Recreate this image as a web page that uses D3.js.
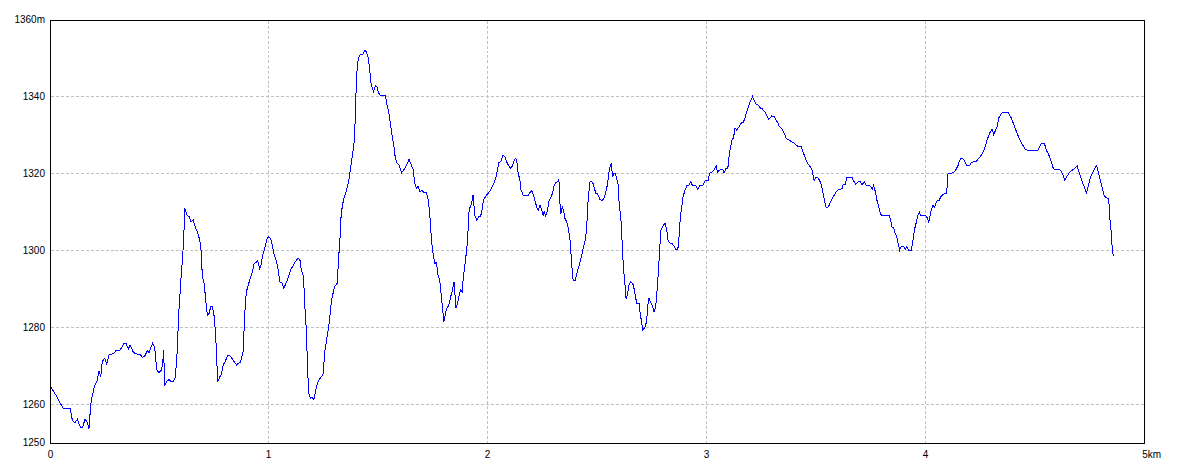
<!DOCTYPE html>
<html>
<head>
<meta charset="utf-8">
<script src="https://cdn.jsdelivr.net/npm/d3@7"></script>
<style>
  html, body { margin: 0; padding: 0; background: #fff; }
  svg { display: block; }
  text { font-family: "Liberation Sans", Arial, sans-serif; font-size: 10px; fill: #000; }
</style>
</head>
<body>
<svg id="chart" width="1184" height="473"></svg>
<script>
// ---- data (distance in km, elevation in m) ----
const distanceKm = [
  0.003,0.014,0.024,0.037,0.049,0.064,0.095,0.105,0.116,0.128,0.143,0.151,0.163,0.174,0.181,0.189,0.197,0.207,0.219,0.227,
  0.235,0.242,0.253,0.262,0.273,0.296,0.303,0.323,0.341,0.351,0.361,0.369,0.384,0.395,0.415,0.425,0.436,0.448,0.456,0.463,
  0.472,0.481,0.491,0.501,0.512,0.518,0.522,0.527,0.536,0.547,0.555,0.567,0.576,0.585,0.590,0.596,0.603,0.608,0.613,0.619,
  0.628,0.639,0.646,0.657,0.666,0.677,0.686,0.692,0.699,0.707,0.715,0.722,0.730,0.737,0.745,0.753,0.760,0.765,0.769,0.779,
  0.786,0.794,0.803,0.814,0.824,0.833,0.844,0.855,0.863,0.872,0.878,0.885,0.890,0.896,0.902,0.911,0.920,0.928,0.936,0.943,
  0.951,0.960,0.966,0.974,0.984,0.993,1.000,1.009,1.013,1.025,1.036,1.047,1.051,1.062,1.071,1.087,1.102,1.120,1.135,1.144,
  1.151,1.161,1.166,1.172,1.176,1.181,1.185,1.192,1.201,1.208,1.215,1.224,1.234,1.245,1.251,1.257,1.265,1.272,1.280,1.285,
  1.292,1.303,1.315,1.321,1.327,1.333,1.343,1.353,1.361,1.368,1.376,1.382,1.390,1.394,1.397,1.402,1.407,1.417,1.432,1.440,
  1.448,1.455,1.463,1.467,1.473,1.481,1.489,1.496,1.504,1.513,1.528,1.535,1.542,1.550,1.557,1.565,1.574,1.580,1.588,1.597,
  1.608,1.618,1.627,1.643,1.653,1.661,1.669,1.676,1.684,1.693,1.702,1.711,1.720,1.729,1.737,1.745,1.752,1.760,1.768,1.775,
  1.783,1.790,1.798,1.802,1.809,1.816,1.824,1.833,1.841,1.848,1.851,1.857,1.864,1.873,1.879,1.885,1.891,1.897,1.903,1.909,
  1.917,1.925,1.931,1.935,1.943,1.952,1.961,1.969,1.976,1.983,1.992,2.001,2.010,2.016,2.026,2.037,2.045,2.053,2.062,2.072,
  2.080,2.088,2.098,2.106,2.113,2.123,2.130,2.136,2.141,2.149,2.153,2.164,2.171,2.186,2.194,2.202,2.209,2.217,2.225,2.232,
  2.240,2.248,2.255,2.260,2.267,2.275,2.281,2.290,2.298,2.305,2.313,2.321,2.327,2.331,2.336,2.342,2.348,2.354,2.362,2.369,
  2.377,2.382,2.388,2.392,2.400,2.408,2.415,2.423,2.431,2.438,2.446,2.453,2.461,2.469,2.476,2.484,2.495,2.504,2.514,2.525,
  2.533,2.540,2.548,2.555,2.561,2.566,2.572,2.578,2.584,2.590,2.598,2.602,2.609,2.613,2.618,2.624,2.629,2.634,2.641,2.647,
  2.656,2.667,2.674,2.682,2.693,2.698,2.705,2.709,2.720,2.728,2.732,2.738,2.746,2.753,2.761,2.769,2.773,2.778,2.783,2.789,
  2.793,2.801,2.811,2.819,2.826,2.837,2.845,2.854,2.862,2.870,2.875,2.881,2.888,2.894,2.903,2.912,2.921,2.929,2.936,2.952,
  2.961,2.971,2.984,2.994,3.009,3.014,3.025,3.035,3.045,3.051,3.060,3.071,3.078,3.081,3.089,3.096,3.101,3.105,3.112,3.116,
  3.124,3.131,3.139,3.146,3.154,3.162,3.169,3.177,3.185,3.192,3.200,3.211,3.218,3.227,3.238,3.246,3.256,3.269,3.276,3.284,
  3.291,3.299,3.310,3.319,3.327,3.334,3.345,3.355,3.365,3.372,3.383,3.395,3.402,3.413,3.433,3.441,3.448,3.456,3.464,3.474,
  3.482,3.487,3.493,3.500,3.508,3.517,3.525,3.532,3.538,3.544,3.551,3.558,3.566,3.576,3.584,3.593,3.604,3.619,3.624,3.634,
  3.642,3.653,3.665,3.672,3.683,3.695,3.703,3.711,3.721,3.730,3.744,3.752,3.758,3.764,3.771,3.779,3.787,3.794,3.802,3.837,
  3.843,3.849,3.855,3.860,3.866,3.871,3.878,3.883,3.890,3.901,3.909,3.916,3.924,3.936,3.944,3.950,3.956,3.962,3.967,3.973,
  3.980,4.003,4.010,4.015,4.021,4.027,4.035,4.042,4.049,4.056,4.064,4.073,4.084,4.095,4.099,4.104,4.122,4.133,4.141,4.150,
  4.155,4.163,4.175,4.183,4.191,4.201,4.210,4.225,4.236,4.243,4.251,4.259,4.266,4.274,4.282,4.289,4.297,4.305,4.312,4.320,
  4.328,4.335,4.343,4.351,4.362,4.378,4.385,4.393,4.401,4.408,4.416,4.424,4.434,4.445,4.457,4.465,4.515,4.522,4.530,4.544,
  4.552,4.561,4.568,4.576,4.584,4.591,4.613,4.622,4.629,4.637,4.648,4.658,4.671,4.683,4.694,4.701,4.709,4.716,4.727,4.736,
  4.744,4.754,4.765,4.774,4.782,4.790,4.797,4.808,4.815,4.823,4.831,4.838,4.841,4.849,4.853,4.858
];
const elevationM = [
  1265.0,1263.9,1262.9,1261.8,1260.3,1259.0,1259.0,1255.9,1255.2,1256.1,1253.9,1253.9,1256.1,1255.3,1253.5,1259.8,1262.4,1264.8,1266.3,1268.7,
  1267.2,1271.1,1272.0,1270.5,1272.8,1273.3,1273.9,1274.1,1275.8,1275.7,1274.4,1275.4,1273.5,1273.1,1273.0,1272.2,1272.6,1273.9,1273.4,1274.6,
  1275.9,1274.8,1268.9,1268.2,1268.9,1270.7,1274.1,1265.0,1265.9,1266.5,1265.9,1265.9,1267.2,1274.6,1282.8,1288.0,1294.1,1297.5,1302.3,1311.0,
  1309.2,1308.8,1307.5,1307.9,1306.2,1304.6,1302.9,1301.0,1293.2,1291.5,1286.7,1283.2,1283.7,1285.4,1285.4,1282.8,1277.6,1271.1,1265.9,1267.2,
  1267.9,1270.2,1271.1,1272.6,1272.6,1272.0,1271.1,1270.2,1270.7,1270.8,1272.0,1273.7,1280.2,1287.1,1289.7,1291.5,1293.2,1294.5,1296.7,1296.8,
  1297.4,1295.3,1296.0,1298.8,1300.6,1302.9,1303.6,1303.1,1302.7,1299.3,1297.5,1294.5,1291.9,1291.6,1290.2,1292.3,1294.9,1296.8,1298.0,1297.7,
  1294.9,1293.2,1286.3,1281.1,1275.0,1267.2,1262.9,1261.6,1261.8,1261.1,1263.3,1265.5,1266.5,1267.4,1268.1,1273.3,1276.3,1278.9,1281.9,1285.4,
  1288.0,1290.6,1291.5,1298.0,1302.7,1309.7,1313.1,1314.9,1316.6,1318.3,1321.4,1324.0,1327.0,1329.6,1334.8,1343.5,1348.7,1350.8,1351.1,1352.0,
  1351.7,1350.4,1347.4,1343.9,1342.6,1341.3,1342.9,1342.6,1340.9,1340.2,1340.2,1340.4,1337.8,1336.1,1333.1,1330.0,1327.0,1324.0,1322.8,1322.2,
  1320.2,1320.9,1321.8,1323.7,1322.2,1321.1,1317.5,1316.2,1316.6,1315.3,1315.7,1314.9,1315.2,1313.6,1309.7,1302.7,1299.3,1296.7,1296.8,1293.6,
  1292.3,1288.0,1283.7,1281.5,1283.7,1285.0,1285.8,1288.0,1289.7,1291.9,1289.7,1285.0,1286.3,1288.9,1289.9,1289.3,1293.2,1295.8,1298.8,1301.9,
  1310.5,1311.8,1313.1,1314.4,1309.2,1307.8,1308.8,1308.8,1310.5,1313.3,1314.0,1314.7,1315.3,1315.9,1317.0,1318.5,1320.5,1322.8,1323.1,1324.8,
  1324.4,1323.1,1322.0,1321.4,1321.8,1323.4,1324.0,1322.7,1320.1,1318.3,1315.9,1314.4,1314.2,1314.2,1315.0,1315.6,1314.7,1313.1,1311.4,1310.4,
  1311.8,1310.5,1309.2,1310.1,1309.0,1310.5,1312.7,1313.8,1314.9,1317.0,1317.6,1317.9,1318.5,1312.7,1309.5,1311.4,1310.5,1308.4,1307.5,1306.0,
  1303.2,1299.3,1294.5,1292.1,1292.1,1293.6,1295.4,1296.8,1298.8,1300.6,1302.3,1305.3,1313.6,1317.9,1317.9,1317.3,1314.9,1314.7,1313.3,1313.0,
  1313.6,1314.9,1317.0,1320.1,1321.8,1322.8,1319.0,1320.1,1320.1,1319.0,1317.0,1312.3,1308.8,1305.8,1298.8,1294.1,1290.8,1287.3,1288.9,1291.0,
  1291.9,1291.0,1288.9,1286.3,1286.3,1283.7,1281.2,1279.3,1280.0,1281.7,1285.4,1287.6,1286.4,1285.8,1284.1,1285.4,1288.0,1291.9,1296.2,1301.9,
  1305.3,1306.2,1307.1,1305.5,1302.3,1301.9,1301.7,1301.0,1300.1,1300.3,1303.2,1308.4,1311.4,1314.0,1315.7,1316.9,1317.0,1317.9,1317.0,1316.8,
  1315.9,1317.0,1317.0,1318.1,1318.1,1320.1,1320.3,1320.9,1322.0,1320.3,1320.9,1321.1,1320.9,1320.1,1321.2,1321.2,1322.2,1325.3,1327.0,1328.7,
  1329.2,1331.8,1331.3,1331.9,1332.6,1333.3,1333.3,1334.5,1336.1,1337.4,1338.7,1340.0,1339.1,1338.1,1337.8,1337.1,1336.8,1335.9,1335.2,1334.2,
  1334.4,1335.0,1334.8,1333.9,1333.1,1332.2,1331.6,1330.6,1329.2,1328.9,1328.5,1328.1,1327.9,1327.2,1327.0,1325.7,1324.7,1323.5,1322.5,1321.8,
  1321.2,1319.6,1318.1,1318.9,1318.9,1318.3,1317.0,1315.3,1313.6,1311.6,1311.0,1311.4,1312.5,1313.6,1314.4,1315.3,1315.9,1316.0,1317.0,1317.2,
  1318.9,1319.0,1319.0,1318.1,1317.2,1317.9,1317.9,1317.0,1317.9,1317.0,1317.0,1316.6,1316.0,1316.9,1315.5,1313.1,1311.4,1309.7,1309.0,1309.0,
  1307.5,1305.9,1305.9,1304.9,1304.0,1303.2,1301.4,1300.1,1301.0,1301.0,1300.3,1301.0,1300.1,1300.1,1302.7,1305.3,1306.6,1308.1,1309.2,1309.9,
  1309.0,1309.0,1308.4,1307.2,1308.8,1310.5,1311.8,1311.2,1312.4,1313.1,1313.1,1314.2,1314.6,1314.9,1316.2,1320.1,1320.1,1320.5,1321.1,1322.2,
  1323.1,1324.0,1323.7,1322.7,1322.0,1322.0,1322.9,1323.1,1323.3,1324.0,1324.4,1325.1,1325.9,1327.0,1328.7,1329.8,1330.9,1331.5,1330.2,1331.1,
  1332.2,1334.4,1335.2,1335.9,1335.8,1335.9,1335.2,1334.4,1333.2,1332.2,1330.9,1329.8,1328.5,1327.4,1326.3,1326.1,1326.1,1327.0,1327.9,1327.9,
  1326.1,1325.3,1324.2,1323.1,1321.4,1321.1,1321.1,1320.5,1319.6,1318.2,1319.4,1320.2,1320.9,1321.4,1322.0,1320.5,1319.2,1317.9,1316.4,1315.0,
  1316.8,1319.0,1320.2,1321.4,1322.0,1320.5,1318.8,1316.2,1314.6,1313.8,1313.6,1313.3,1309.2,1304.9,1301.0,1298.6
];
const xTickValues = [0, 1, 2, 3, 4];
const xTickLabels = ["0", "1", "2", "3", "4"];
const xEndLabel = "5km";
const yTickValues = [1250, 1260, 1280, 1300, 1320, 1340, 1360];
const yTickLabels = ["1250", "1260", "1280", "1300", "1320", "1340", "1360m"];
const yGridValues = [1260, 1280, 1300, 1320, 1340];
const xGridValues = [1, 2, 3, 4];

// ---- scales ----
const x = d3.scaleLinear().domain([0, 5]).range([49.3, 1144.3]);
const y = d3.scaleLinear().domain([1250, 1360]).range([442.75, 19.75]);

const svg = d3.select("#chart");

const frameLeft = Math.ceil(x(0)) + 0.5;
const frameRight = Math.floor(x(5)) + 0.5;
const frameTop = Math.round(y(1360)) + 0.5;
const frameBottom = Math.round(y(1250)) + 0.5;

// grid
const grid = svg.append("g")
  .attr("stroke", "#c0c0c0")
  .attr("stroke-width", 1)
  .attr("stroke-dasharray", "3,2")
  .attr("shape-rendering", "crispEdges");

grid.selectAll("line.h").data(yGridValues).join("line")
  .attr("class", "h")
  .attr("x1", frameLeft).attr("x2", frameRight)
  .attr("y1", d => Math.floor(y(d)) + 0.5)
  .attr("y2", d => Math.floor(y(d)) + 0.5);

grid.selectAll("line.v").data(xGridValues).join("line")
  .attr("class", "v")
  .attr("y1", frameTop).attr("y2", frameBottom)
  .attr("x1", d => Math.floor(x(d)) + 0.5)
  .attr("x2", d => Math.floor(x(d)) + 0.5);

// line
const data = distanceKm.map((d, i) => [d, elevationM[i]]);
svg.append("path")
  .datum(data)
  .attr("fill", "none")
  .attr("stroke", "#0000ff")
  .attr("stroke-width", 1)
  .attr("shape-rendering", "crispEdges")
  .attr("d", d3.line().x(d => x(d[0])).y(d => y(d[1])));

// frame
svg.append("rect")
  .attr("x", frameLeft).attr("y", frameTop)
  .attr("width", frameRight - frameLeft).attr("height", frameBottom - frameTop)
  .attr("fill", "none")
  .attr("stroke", "#000")
  .attr("stroke-width", 1)
  .attr("shape-rendering", "crispEdges");

// y labels
svg.append("g").selectAll("text").data(yTickValues).join("text")
  .attr("x", 45)
  .attr("y", d => y(d))
  .attr("text-anchor", "end")
  .attr("dominant-baseline", "central")
  .text((d, i) => yTickLabels[i]);

// x labels
svg.append("g").selectAll("text").data(xTickValues).join("text")
  .attr("x", d => Math.floor(x(d)) + 0.5 + (d === 0 ? 1 : 0))
  .attr("y", 454)
  .attr("text-anchor", "middle")
  .attr("dominant-baseline", "central")
  .text((d, i) => xTickLabels[i]);

svg.append("text")
  .attr("x", x(5) - 2)
  .attr("y", 454)
  .attr("text-anchor", "start")
  .attr("dominant-baseline", "central")
  .text(xEndLabel);
</script>
</body>
</html>
